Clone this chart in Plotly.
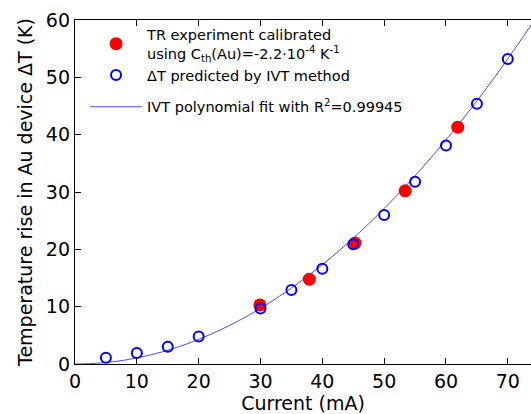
import plotly.graph_objects as go

# Data
ivt_current = [5, 10, 15, 20, 30, 35, 40, 45, 50, 55, 60, 65, 70]
ivt_dT = [1.1, 1.9, 3.0, 4.8, 9.7, 12.9, 16.6, 20.9, 26.0, 31.8, 38.1, 45.4, 53.2]

tr_current = [29.9, 37.9, 45.3, 53.4, 61.9]
tr_dT = [10.3, 14.8, 21.1, 30.2, 41.3]

fit_current = [0, 4, 8, 12, 16, 20, 24, 28, 32, 36, 40, 44, 48, 52, 56, 60, 64, 68, 72, 74]
fit_dT = [0.0, 0.16, 0.67, 1.53, 2.73, 4.29, 6.20, 8.45, 11.06, 14.01, 17.32, 20.97,
          24.98, 29.33, 34.03, 39.08, 44.48, 50.23, 56.33, 59.5]

x_ticks = [0, 10, 20, 30, 40, 50, 60, 70]
y_ticks = [0, 10, 20, 30, 40, 50, 60]

W, H = 531, 414
FONT = "DejaVu Sans"

fig = go.Figure()
fig.add_trace(go.Scatter(
    x=fit_current, y=fit_dT, mode="lines", line_shape="spline",
    line=dict(color="rgba(0,0,255,0.7)", width=1),
    name="IVT polynomial fit with R<sup>2</sup>=0.99945", legendrank=3, legendgroup="b",
))
fig.add_trace(go.Scatter(
    x=tr_current, y=tr_dT, mode="markers",
    marker=dict(color="red", size=13, line=dict(width=0)),
    name="TR experiment calibrated<br>using C<sub>th</sub>(Au)=-2.2·10<sup>-4</sup> K<sup>-1</sup>",
    legendrank=1, legendgroup="a",
))
fig.add_trace(go.Scatter(
    x=ivt_current, y=ivt_dT, mode="markers",
    marker=dict(symbol="circle-open", color="blue", size=10, line=dict(width=2, color="blue")),
    name="ΔT predicted by IVT method", legendrank=2, legendgroup="a",
))

axis_common = dict(
    showgrid=False, zeroline=False, showline=True, linecolor="black", linewidth=1.3,
    ticks="inside", ticklen=6, tickwidth=1, tickcolor="black",
    tickfont=dict(family=FONT, size=19, color="black"),
    title_font=dict(family=FONT, size=19, color="black"),
)

fig.update_layout(
    width=W, height=H,
    margin=dict(l=74.5, r=0, t=20, b=50, pad=0),
    paper_bgcolor="white", plot_bgcolor="white",
    font=dict(family=FONT, color="black"),
    xaxis=dict(range=[0, 73.75], tickvals=x_ticks, mirror="ticks",
               title=dict(text="Current (mA)", standoff=4), **axis_common),
    yaxis=dict(range=[0, 60], tickvals=y_ticks, mirror=False,
               title=dict(text="Temperature rise in Au device ΔT (K)", standoff=8), **axis_common),
    legend=dict(x=0.022, y=1.005, xanchor="left", yanchor="top",
                bgcolor="rgba(0,0,0,0)", borderwidth=0,
                font=dict(family=FONT, size=14.5, color="black"),
                itemwidth=52, traceorder="grouped", tracegroupgap=10),
    showlegend=True,
)

fig.write_html("out.html")
